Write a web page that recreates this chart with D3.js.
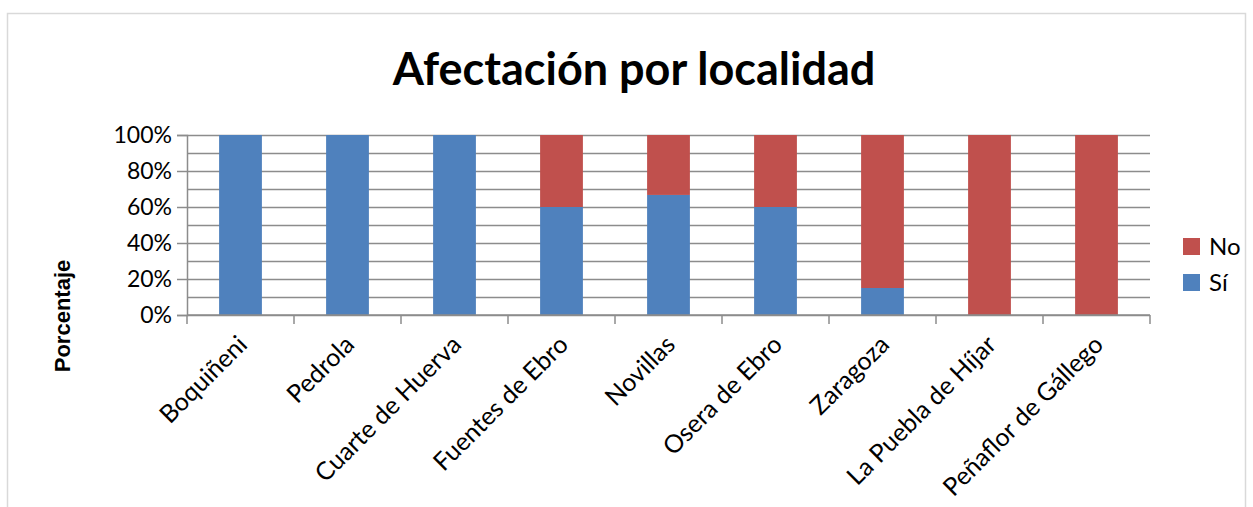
<!DOCTYPE html>
<html lang="es">
<head>
<meta charset="utf-8">
<script src="https://d3js.org/d3.v7.min.js"></script>
<style>
  body { margin: 0; background: #fff; }
  text { font-family: Lato, "Open Sans", sans-serif; fill: #000; }
</style>
</head>
<body>
<script>
// data
var localidades = ["Boquiñeni", "Pedrola", "Cuarte de Huerva", "Fuentes de Ebro", "Novillas",
                   "Osera de Ebro", "Zaragoza", "La Puebla de Híjar", "Peñaflor de Gállego"];
var si = [1, 1, 1, 0.6, 0.667, 0.6, 0.15, 0, 0];
var no = [0, 0, 0, 0.4, 0.333, 0.4, 0.85, 1, 1];
var series = ["Sí", "No"];
var colores = ["#4F81BD", "#C0504D"];

var width = 1253, height = 507;
var margin = {left: 187, right: 103, top: 135, bottom: 192};

var svg = d3.select("body").append("svg")
  .attr("width", width).attr("height", height);

// outer frame
svg.append("rect").attr("x", 7.5).attr("y", 13.5).attr("width", 1238).attr("height", 510)
  .attr("fill", "none").attr("stroke", "#d9d9d9").attr("stroke-width", 1.5);

var x = d3.scaleBand().domain(localidades)
  .range([margin.left, width - margin.right]).paddingInner(0.6).paddingOuter(0.3);
var y = d3.scaleLinear().domain([0, 1]).range([height - margin.bottom, margin.top]);

// gridlines every 10%
svg.append("g").selectAll("line").data(d3.range(0, 1.01, 0.1)).join("line")
  .attr("x1", margin.left).attr("x2", width - margin.right)
  .attr("y1", function(d) { return Math.round(y(d)) + 0.5; })
  .attr("y2", function(d) { return Math.round(y(d)) + 0.5; })
  .attr("stroke", "#8c8c8c").attr("stroke-width", 1.5);

// stacked bars
var rows = localidades.map(function(l, i) { return {loc: l, "Sí": si[i], "No": no[i]}; });
var stacked = d3.stack().keys(series)(rows);

svg.append("g").selectAll("g").data(stacked).join("g")
  .attr("fill", function(d, i) { return colores[i]; })
  .selectAll("rect").data(function(d) { return d; }).join("rect")
  .attr("x", function(d) { return x(d.data.loc); })
  .attr("width", x.bandwidth())
  .attr("y", function(d) { return y(d[1]); })
  .attr("height", function(d) { return y(d[0]) - y(d[1]); });

// y axis
var yAxis = svg.append("g").attr("transform", "translate(" + margin.left + ",0)")
  .call(d3.axisLeft(y).tickValues(d3.range(0, 1.01, 0.2)).tickFormat(d3.format(".0%"))
    .tickSize(10).tickPadding(5));
yAxis.select(".domain").attr("stroke", "#8c8c8c").attr("stroke-width", 1.5);
yAxis.selectAll(".tick line").attr("stroke", "#8c8c8c").attr("stroke-width", 1.5);
yAxis.selectAll(".tick text").style("font-size", "23px");

// x axis: ticks on band boundaries
var x0 = margin.left, x1 = width - margin.right;
var xa = svg.append("g");
xa.append("line").attr("x1", x0).attr("x2", x1)
  .attr("y1", y(0)).attr("y2", y(0)).attr("stroke", "#8c8c8c").attr("stroke-width", 1.5);
var bw = (x1 - x0) / localidades.length;
xa.selectAll("line.tk").data(d3.range(localidades.length + 1)).join("line")
  .attr("class", "tk")
  .attr("x1", function(i) { return x0 + i * bw; }).attr("x2", function(i) { return x0 + i * bw; })
  .attr("y1", y(0)).attr("y2", y(0) + 9)
  .attr("stroke", "#8c8c8c").attr("stroke-width", 1.5);
xa.selectAll("text").data(localidades).join("text")
  .attr("transform", function(d) {
    return "translate(" + (x(d) + x.bandwidth() / 2 + 2) + "," + (y(0) + 25) + ") rotate(-45)";
  })
  .attr("text-anchor", "end")
  .attr("dy", "0.35em")
  .style("font-size", "25px")
  .text(function(d) { return d; });

// titles
svg.append("text").attr("x", 634).attr("y", 85).attr("text-anchor", "middle")
  .style("font-size", "45px").style("font-weight", "bold").text("Afectación por localidad");

svg.append("text")
  .attr("transform", "translate(70,316) rotate(-90)")
  .attr("text-anchor", "middle")
  .style("font-family", "'Liberation Sans', Arial, sans-serif")
  .style("font-size", "22px").style("font-weight", "bold").text("Porcentaje");

// legend
var leg = svg.append("g").selectAll("g").data(["No", "Sí"]).join("g")
  .attr("transform", function(d, i) { return "translate(1183," + (238 + i * 36) + ")"; });
leg.append("rect").attr("width", 17).attr("height", 17)
  .attr("fill", function(d) { return colores[series.indexOf(d)]; });
leg.append("text").attr("x", 26).attr("y", 9).attr("dy", "0.35em")
  .style("font-size", "24px").text(function(d) { return d; });
</script>
</body>
</html>
